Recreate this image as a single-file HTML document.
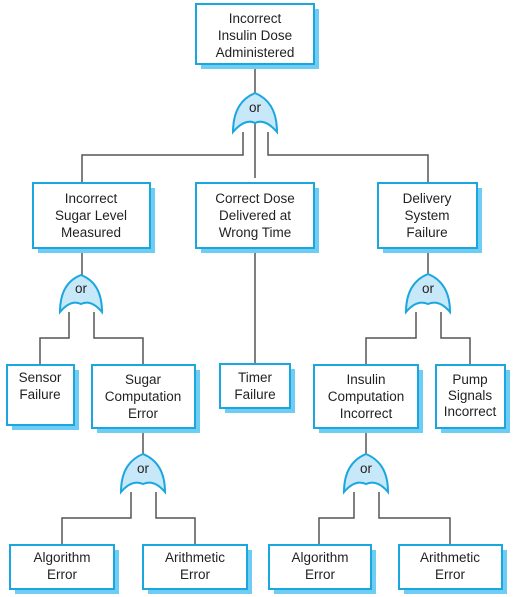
<!DOCTYPE html>
<html><head><meta charset="utf-8"><style>
html,body{margin:0;padding:0;background:#fff;width:514px;height:597px;overflow:hidden}
svg{display:block}
text{font-family:"Liberation Sans",sans-serif;font-size:13.5px;fill:#231f20;text-anchor:middle}
.sh{fill:#6fcdf4}
.bx{fill:#fff;stroke:#1aa7e0;stroke-width:2}
.ln{stroke:#555;stroke-width:1.5;fill:none}
.g{fill:#c6e8f8;stroke:#1aa7e0;stroke-width:2}
</style></head><body>
<svg width="514" height="597" viewBox="0 0 514 597">
<!-- connectors -->
<g class="ln">
<path d="M255 64V178"/>
<path d="M243 132V155H82V183M268 132V155H428V183"/>
<path d="M82 248V290M69 312V338H40V365M94 312V338H143V365"/>
<path d="M255 248V364"/>
<path d="M428 248V290M416 312V338H366V365M441 312V338H470V365"/>
<path d="M143 428V470M131 492V518H62V545M156 492V518H195V545"/>
<path d="M366 428V470M354 492V518H319V545M379 492V518H450V545"/>
</g>
<!-- gates -->
<g class="g">
<path d="M233 132Q233 102 255 93Q277 102 277 132Q265 118 255 123Q245 118 233 132Z"/>
<path d="M60 312Q60 283 81 275Q102 283 102 312Q91 299 81 304Q71 299 60 312Z"/>
<path d="M406 312Q406 283 428 274Q450 283 450 312Q439 299 428 304Q417 299 406 312Z"/>
<path d="M121 492Q121 463 143 454Q165 463 165 492Q154 479 143 484Q132 479 121 492Z"/>
<path d="M344 492Q344 463 366 454Q388 463 388 492Q377 479 366 484Q355 479 344 492Z"/>
</g>
<text x="255" y="112">or</text>
<text x="81" y="293">or</text>
<text x="428" y="293">or</text>
<text x="143" y="473">or</text>
<text x="366" y="473">or</text>
<!-- boxes -->
<g>
<rect class="sh" x="201" y="9" width="118" height="60"/><rect class="bx" x="196" y="4" width="118" height="60"/>
<rect class="sh" x="38" y="188" width="117" height="65"/><rect class="bx" x="33" y="183" width="117" height="65"/>
<rect class="sh" x="201" y="188" width="118" height="65"/><rect class="bx" x="196" y="183" width="118" height="65"/>
<rect class="sh" x="383" y="188" width="99" height="65"/><rect class="bx" x="378" y="183" width="99" height="65"/>
<rect class="sh" x="12" y="370" width="67" height="60"/><rect class="bx" x="7" y="365" width="67" height="60"/>
<rect class="sh" x="97" y="370" width="103" height="63"/><rect class="bx" x="92" y="365" width="103" height="63"/>
<rect class="sh" x="225" y="369" width="70" height="44"/><rect class="bx" x="220" y="364" width="70" height="44"/>
<rect class="sh" x="319" y="370" width="104" height="63"/><rect class="bx" x="314" y="365" width="104" height="63"/>
<rect class="sh" x="441" y="370" width="69" height="63"/><rect class="bx" x="436" y="365" width="69" height="63"/>
<rect class="sh" x="15" y="550" width="104" height="44"/><rect class="bx" x="10" y="545" width="104" height="44"/>
<rect class="sh" x="148" y="550" width="104" height="44"/><rect class="bx" x="143" y="545" width="104" height="44"/>
<rect class="sh" x="274" y="550" width="102" height="44"/><rect class="bx" x="269" y="545" width="102" height="44"/>
<rect class="sh" x="404" y="550" width="103" height="44"/><rect class="bx" x="399" y="545" width="103" height="44"/>
</g>
<text x="255" y="23">Incorrect</text><text x="255" y="40">Insulin Dose</text><text x="255" y="57">Administered</text>
<text x="91" y="203">Incorrect</text><text x="91" y="220">Sugar Level</text><text x="91" y="237">Measured</text>
<text x="255" y="203">Correct Dose</text><text x="255" y="220">Delivered at</text><text x="255" y="237">Wrong Time</text>
<text x="427" y="203">Delivery</text><text x="427" y="220">System</text><text x="427" y="237">Failure</text>
<text x="40" y="382">Sensor</text><text x="40" y="399">Failure</text>
<text x="143" y="384">Sugar</text><text x="143" y="401">Computation</text><text x="143" y="418">Error</text>
<text x="255" y="382">Timer</text><text x="255" y="399">Failure</text>
<text x="366" y="384">Insulin</text><text x="366" y="401">Computation</text><text x="366" y="418">Incorrect</text>
<text x="470" y="384">Pump</text><text x="470" y="400">Signals</text><text x="470" y="416">Incorrect</text>
<text x="62" y="562">Algorithm</text><text x="62" y="579">Error</text>
<text x="195" y="562">Arithmetic</text><text x="195" y="579">Error</text>
<text x="320" y="562">Algorithm</text><text x="320" y="579">Error</text>
<text x="450" y="562">Arithmetic</text><text x="450" y="579">Error</text>
</svg>
</body></html>
